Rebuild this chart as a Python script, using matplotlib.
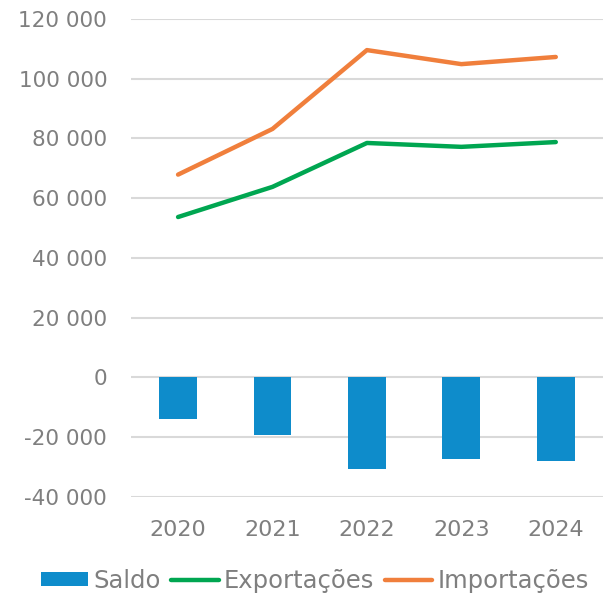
import numpy as np
import matplotlib.pyplot as plt
from matplotlib.ticker import FuncFormatter

anos = ['2020', '2021', '2022', '2023', '2024']
exportacoes = [53700, 63800, 78500, 77200, 78800]
importacoes = [67900, 83200, 109600, 104900, 107300]
saldo = [-14100, -19400, -30800, -27400, -28100]

cinza = '#7f7f7f'
plt.rcParams['font.family'] = 'DejaVu Sans'

fig = plt.figure(figsize=(6.03, 5.95), dpi=100)
ax = fig.add_axes([0.217, 0.165, 0.783, 0.803])

x = np.arange(len(anos))
b = ax.bar(x, saldo, width=0.4, color='#0E8CCB', label='Saldo', zorder=3)
l1, = ax.plot(x, exportacoes, color='#00A651', lw=3.2, label='Exportações', zorder=4, solid_capstyle='round')
l2, = ax.plot(x, importacoes, color='#F07F3C', lw=3.2, label='Importações', zorder=4, solid_capstyle='round')

ax.set_xlim(-0.5, 4.5)
ax.set_ylim(-40000, 120000)
ax.set_yticks(np.arange(-40000, 120001, 20000))
ax.yaxis.set_major_formatter(FuncFormatter(lambda v, p: f'{int(v):,}'.replace(',', ' ')))
ax.set_xticks(x)
ax.set_xticklabels(anos)
ax.grid(axis='y', color='#d9d9d9', lw=1.5, zorder=0)
for s in ax.spines.values():
    s.set_visible(False)
ax.tick_params(length=0, labelsize=15.5, labelcolor=cinza, pad=17)
ax.tick_params(axis='x', pad=17, labelsize=16)

fig.legend([b, l1, l2], ['Saldo', 'Exportações', 'Importações'],
           loc='center', bbox_to_anchor=(0.522, 0.024), ncol=3, frameon=False,
           fontsize=17.5, labelcolor=cinza, handlelength=1.95, handleheight=0.55,
           handletextpad=0.2, columnspacing=0.45, borderaxespad=0, borderpad=0)

fig.savefig('out.png', dpi=100)
